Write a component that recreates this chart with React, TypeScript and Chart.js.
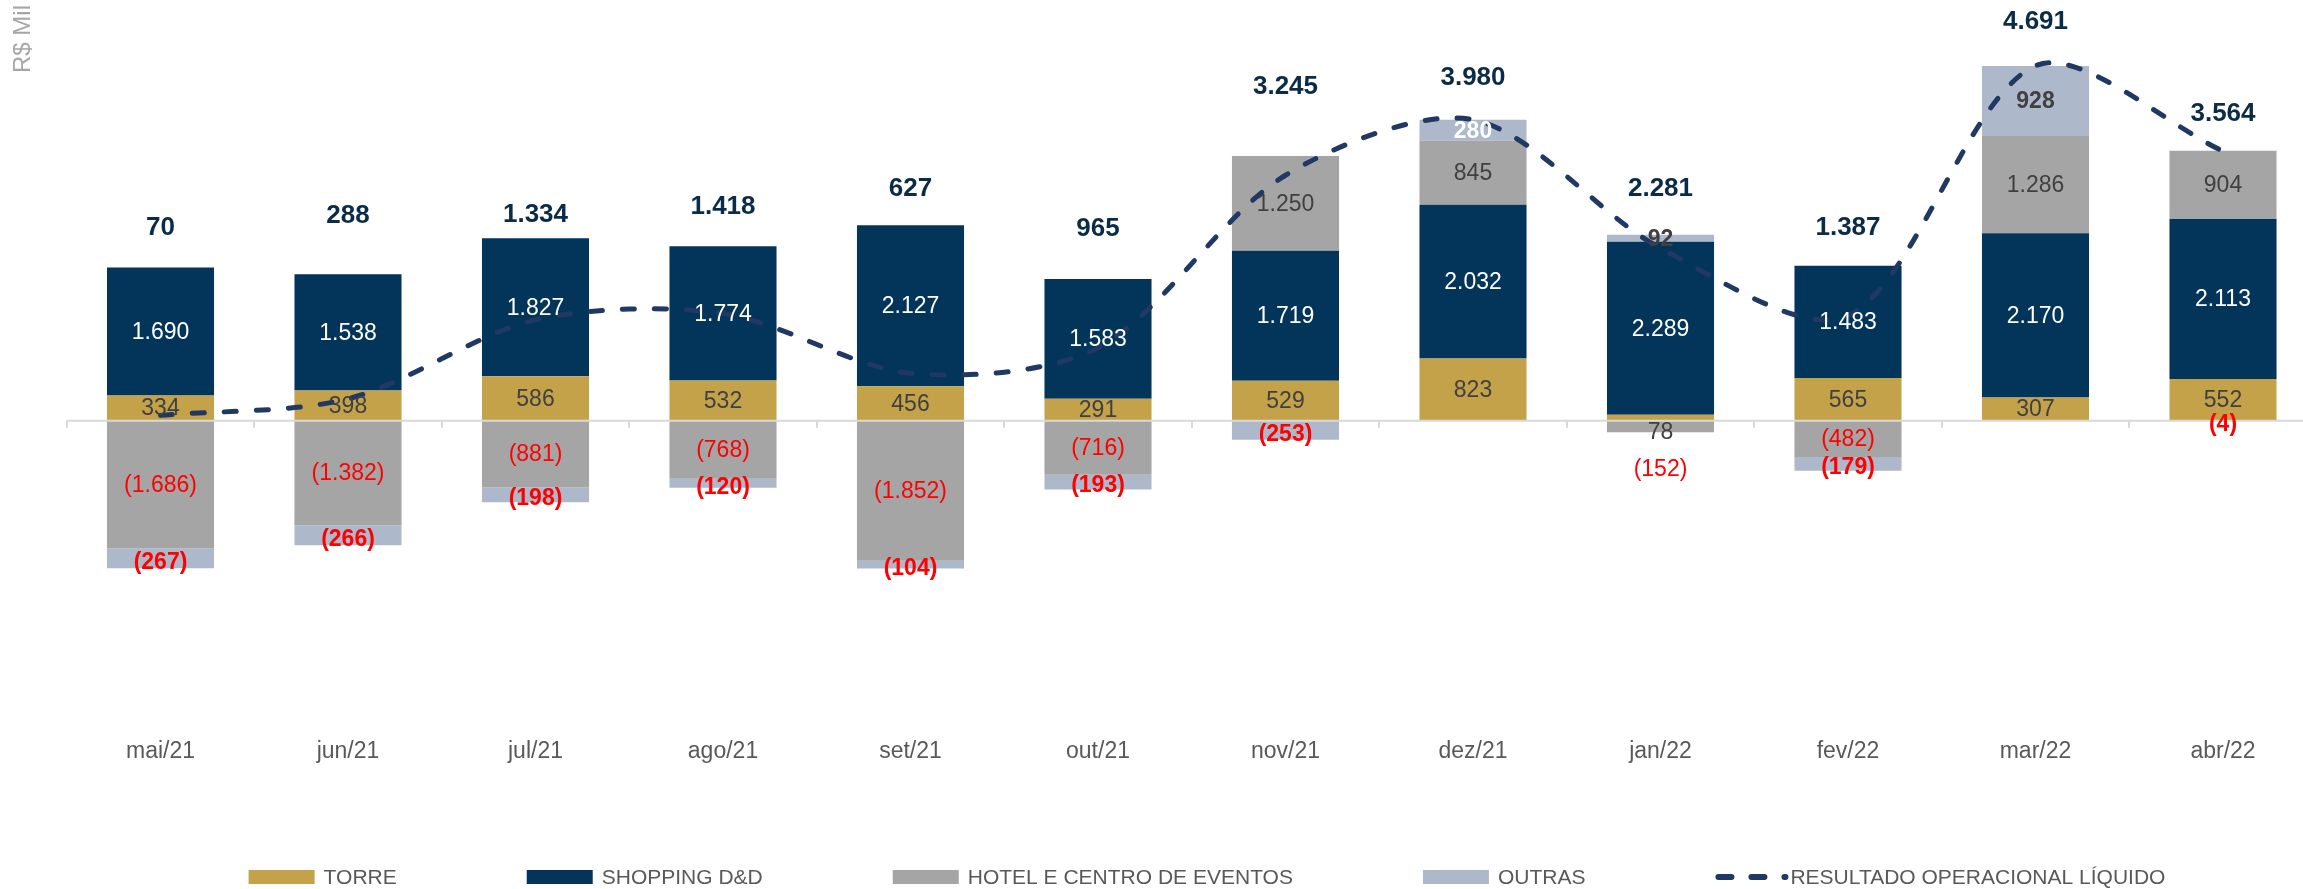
import React, { useEffect, useRef } from 'react';
import { Chart, registerables } from 'chart.js';

Chart.register(...registerables);

const categories = ['mai/21', 'jun/21', 'jul/21', 'ago/21', 'set/21', 'out/21', 'nov/21', 'dez/21', 'jan/22', 'fev/22', 'mar/22', 'abr/22'];
const torre = [334, 398, 586, 532, 456, 291, 529, 823, 78, 565, 307, 552];
const shopping = [1690, 1538, 1827, 1774, 2127, 1583, 1719, 2032, 2289, 1483, 2170, 2113];
const hotel = [-1686, -1382, -881, -768, -1852, -716, 1250, 845, -152, -482, 1286, 904];
const outras = [-267, -266, -198, -120, -104, -193, -253, 280, 92, -179, 928, -4];
const resultado = [70, 288, 1334, 1418, 627, 965, 3245, 3980, 2281, 1387, 4691, 3564];

const Y_MIN = -3950;
const Y_MAX = 5430;

// Style: pixel lift of each total label above its stack (as placed in the source slide)
const TOTAL_LABEL_LIFT = [40, 58, 23, 39, 36, 50, 69, 42, 46, 38, 44, 37];

const FONT = "'Liberation Sans', Arial, sans-serif";
const C_TORRE = '#C3A24A';
const C_SHOP = '#023559';
const C_HOTEL = '#A5A5A5';
const C_OUTRAS = '#ADB9CA';
const C_LINE = '#203864';
const C_TOTAL = '#0B2C49';
const C_DARK = '#404040';
const C_RED = '#FF0000';
const WHITE_OUTRAS = ['dez/21'];

const fmt = (v: number) => {
  const s = Math.abs(v).toString().replace(/\B(?=(\d{3})+(?!\d))/g, '.');
  return v < 0 ? `(${s})` : s;
};

const axisPlugin = {
  id: 'zeroAxis',
  afterDatasetsDraw(chart: any) {
    const { ctx, chartArea } = chart;
    const y0 = chart.scales.y.getPixelForValue(0);
    const xs = chart.scales.x;
    const n = categories.length;
    const step = (chartArea.right - chartArea.left) / n;
    ctx.save();
    ctx.strokeStyle = '#D9D9D9';
    ctx.lineWidth = 2;
    ctx.beginPath();
    ctx.moveTo(chartArea.left, y0);
    ctx.lineTo(chartArea.right, y0);
    for (let i = 0; i <= n; i++) {
      const x = Math.round(xs.getPixelForValue(0) - step / 2 + i * step);
      ctx.moveTo(x, y0);
      ctx.lineTo(x, y0 + 7);
    }
    ctx.stroke();
    ctx.restore();
  },
};

const labelPlugin = {
  id: 'segLabels',
  afterDatasetsDraw(chart: any) {
    const { ctx } = chart;
    const ys = chart.scales.y;
    const y0 = ys.getPixelForValue(0);
    ctx.save();
    ctx.textAlign = 'center';
    ctx.textBaseline = 'middle';
    chart.data.datasets.forEach((ds: any, di: number) => {
      if (ds.type === 'line') return;
      const meta = chart.getDatasetMeta(di);
      meta.data.forEach((bar: any, i: number) => {
        const v = ds.data[i] as number;
        const p = bar.getProps(['x', 'y', 'base'], true);
        const h = Math.abs(p.base - p.y);
        let cy = (p.y + p.base) / 2;
        let color = C_DARK;
        let bold = false;
        if (di === 0) {
          if (h < 10) cy = y0 + 11;
        } else if (di === 1) {
          color = '#FFFFFF';
        } else if (di === 2) {
          color = v < 0 ? C_RED : C_DARK;
          if (v < 0 && h < 15) cy = Math.max(p.y, p.base) + 36;
        } else {
          bold = true;
          color = v < 0 ? C_RED : WHITE_OUTRAS.includes(categories[i]) ? '#FFFFFF' : C_DARK;
          if (v < 0) cy += 3;
        }
        ctx.font = `${bold ? 'bold ' : ''}23px ${FONT}`;
        ctx.fillStyle = color;
        ctx.fillText(fmt(v), p.x, cy + 1);
      });
    });
    // totals
    const xs = chart.scales.x;
    ctx.font = `bold 26px ${FONT}`;
    ctx.fillStyle = C_TOTAL;
    resultado.forEach((v, i) => {
      const pos = [torre[i], shopping[i], hotel[i], outras[i]].filter((a) => a > 0).reduce((a, b) => a + b, 0);
      const cy = ys.getPixelForValue(pos) - TOTAL_LABEL_LIFT[i];
      ctx.fillText(fmt(v), xs.getPixelForValue(i), cy);
    });
    ctx.restore();
  },
};

const legendPlugin = {
  id: 'customLegend',
  afterDraw(chart: any) {
    const { ctx } = chart;
    const items = [
      { text: 'TORRE', color: C_TORRE, line: false },
      { text: 'SHOPPING D&D', color: C_SHOP, line: false },
      { text: 'HOTEL E CENTRO DE EVENTOS', color: C_HOTEL, line: false },
      { text: 'OUTRAS', color: C_OUTRAS, line: false },
      { text: 'RESULTADO OPERACIONAL LÍQUIDO', color: C_LINE, line: true },
    ];
    const boxW = 66;
    const gap = 9;
    const spacing = 130;
    const cy = 877;
    ctx.save();
    ctx.font = `21px ${FONT}`;
    ctx.textBaseline = 'middle';
    ctx.textAlign = 'left';
    const widths = items.map((it) => ctx.measureText(it.text).width);
    const total = widths.reduce((a, b) => a + b, 0) + items.length * (boxW + gap) + (items.length - 1) * spacing;
    let x = 1207 - total / 2;
    items.forEach((it, k) => {
      if (it.line) {
        ctx.strokeStyle = it.color;
        ctx.lineWidth = 6;
        ctx.lineCap = 'round';
        ctx.setLineDash([13, 20]);
        ctx.beginPath();
        ctx.moveTo(x + 3, cy);
        ctx.lineTo(x + boxW + 4, cy);
        ctx.stroke();
        ctx.setLineDash([]);
      } else {
        ctx.fillStyle = it.color;
        ctx.fillRect(x, cy - 7, boxW, 14);
      }
      ctx.fillStyle = '#595959';
      ctx.fillText(it.text, x + boxW + gap, cy + 1);
      x += boxW + gap + widths[k] + spacing;
    });
    // unit label
    ctx.translate(23, 73);
    ctx.rotate(-Math.PI / 2);
    ctx.font = `24px ${FONT}`;
    ctx.fillStyle = '#A6A6A6';
    ctx.textAlign = 'left';
    ctx.fillText('R$ Mil', 0, 0);
    ctx.restore();
  },
};

export default function App() {
  const ref = useRef<HTMLCanvasElement | null>(null);
  useEffect(() => {
    if (!ref.current) return;
    const barCommon = { type: 'bar' as const, order: 1, stack: 'bars', categoryPercentage: 1, barPercentage: 0.571, borderWidth: 0 };
    const chart = new Chart(ref.current, {
      type: 'bar',
      data: {
        labels: categories,
        datasets: [
          { ...barCommon, label: 'TORRE', data: torre, backgroundColor: C_TORRE },
          { ...barCommon, label: 'SHOPPING D&D', data: shopping, backgroundColor: C_SHOP },
          { ...barCommon, label: 'HOTEL E CENTRO DE EVENTOS', data: hotel, backgroundColor: C_HOTEL },
          { ...barCommon, label: 'OUTRAS', data: outras, backgroundColor: C_OUTRAS },
          {
            type: 'line' as const,
            label: 'RESULTADO OPERACIONAL LÍQUIDO',
            data: resultado,
            order: 0,
            stack: 'line',
            borderColor: C_LINE,
            borderWidth: 5,
            borderDash: [12, 20],
            borderCapStyle: 'round',
            pointRadius: 0,
            tension: 0.3,
            fill: false,
          } as any,
        ],
      },
      options: {
        responsive: false,
        animation: false,
        devicePixelRatio: 1,
        layout: { padding: { left: 66.75, right: 13.25, top: 10, bottom: 106 } },
        plugins: { legend: { display: false }, tooltip: { enabled: false } },
        scales: {
          x: {
            stacked: true,
            offset: true,
            grid: { display: false, drawTicks: false },
            border: { display: false },
            ticks: { color: '#595959', font: { family: FONT, size: 23 }, padding: 18 },
          },
          y: {
            stacked: true,
            display: false,
            min: Y_MIN,
            max: Y_MAX,
          },
        },
      },
      plugins: [axisPlugin, labelPlugin, legendPlugin],
    });
    return () => chart.destroy();
  }, []);
  return (
    <div style={{ position: 'fixed', left: 0, top: 0, width: 2303, height: 889, overflow: 'hidden', background: '#ffffff' }}>
      <canvas ref={ref} width={2330} height={889} style={{ display: 'block', width: 2330, height: 889 }} />
    </div>
  );
}
